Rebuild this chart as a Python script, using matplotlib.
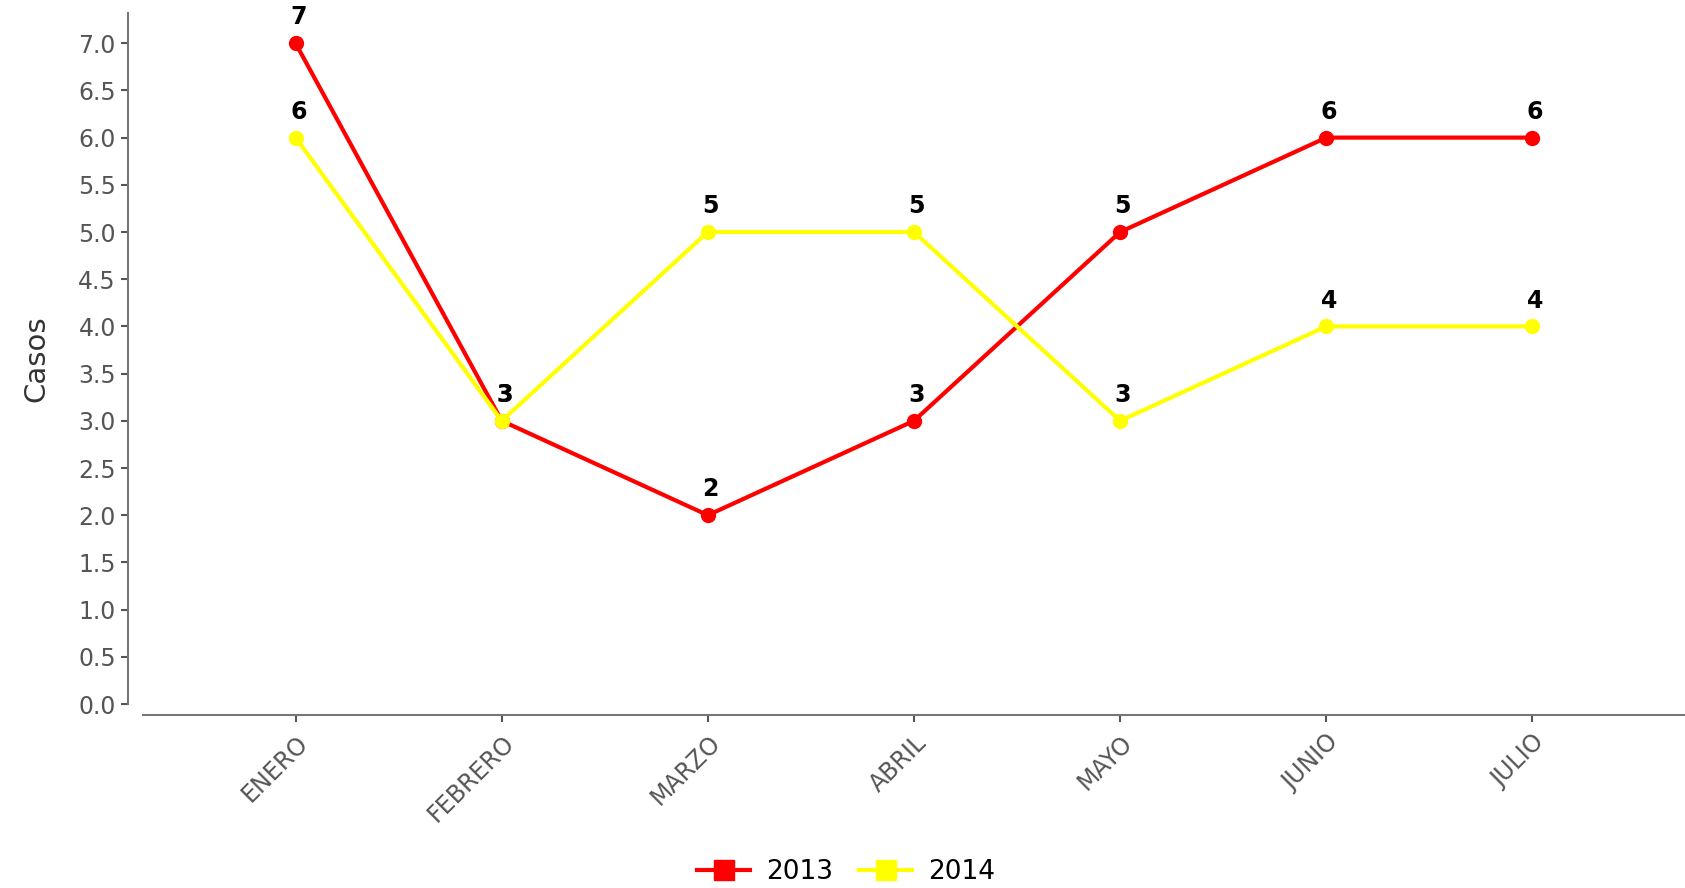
import matplotlib
matplotlib.use('Agg')
import matplotlib.pyplot as plt

meses = ['ENERO', 'FEBRERO', 'MARZO', 'ABRIL', 'MAYO', 'JUNIO', 'JULIO']
casos_2013 = [7, 3, 2, 3, 5, 6, 6]
casos_2014 = [6, 3, 5, 5, 3, 4, 4]
series = [('2013', casos_2013, '#ff0000'), ('2014', casos_2014, '#ffff00')]

W, H = 1685, 888
fig = plt.figure(figsize=(W / 100, H / 100), dpi=100)
ax = fig.add_axes([143 / W, 1 - 704 / H, (W - 143) / W, (704 - 13) / H])

x = list(range(len(meses)))
for nombre, vals, color in series:
    ax.plot(x, vals, color=color, lw=3, marker='o', ms=10, label=nombre,
            clip_on=False, zorder=3)

# etiquetas de valores
for nombre, vals, color in series:
    for i, v in enumerate(vals):
        ax.annotate(str(v), (i, v), xytext=(2, 10), textcoords='offset points',
                    ha='center', va='bottom', fontsize=17, fontweight='bold',
                    color='black', annotation_clip=False, zorder=4)

ax.set_xlim(-0.74, 6.74)
ax.set_ylim(0, 7.32)
ax.set_yticks([i * 0.5 for i in range(15)])
ax.set_yticklabels(['%.1f' % (i * 0.5) for i in range(15)])
ax.set_xticks(x)
ax.set_xticklabels(meses)

for s in ['top', 'right']:
    ax.spines[s].set_visible(False)
ax.spines['left'].set_position(('outward', 11))
ax.spines['bottom'].set_position(('outward', 8))
for s in ['left', 'bottom']:
    ax.spines[s].set_color('#777777')
    ax.spines[s].set_linewidth(1.5)
ax.tick_params(colors='#555555', labelsize=17, length=5, width=1.5)
ax.tick_params(axis='x', pad=6, labelrotation=45)
for lbl in ax.get_xticklabels():
    lbl.set_ha('right')
    lbl.set_rotation_mode('anchor')
ax.set_ylabel('Casos', fontsize=21, color='#333333', labelpad=20)

ax.legend(loc='center', bbox_to_anchor=(846 / W, 1 - 872 / H), bbox_transform=fig.transFigure,
          ncol=2, frameon=False, fontsize=19, handlelength=2, columnspacing=1.0,
          handletextpad=0.6)
leg = ax.get_legend()
for h in leg.legend_handles:
    h.set_marker('s')
    h.set_markersize(15)

fig.savefig('out.png', dpi=100)
